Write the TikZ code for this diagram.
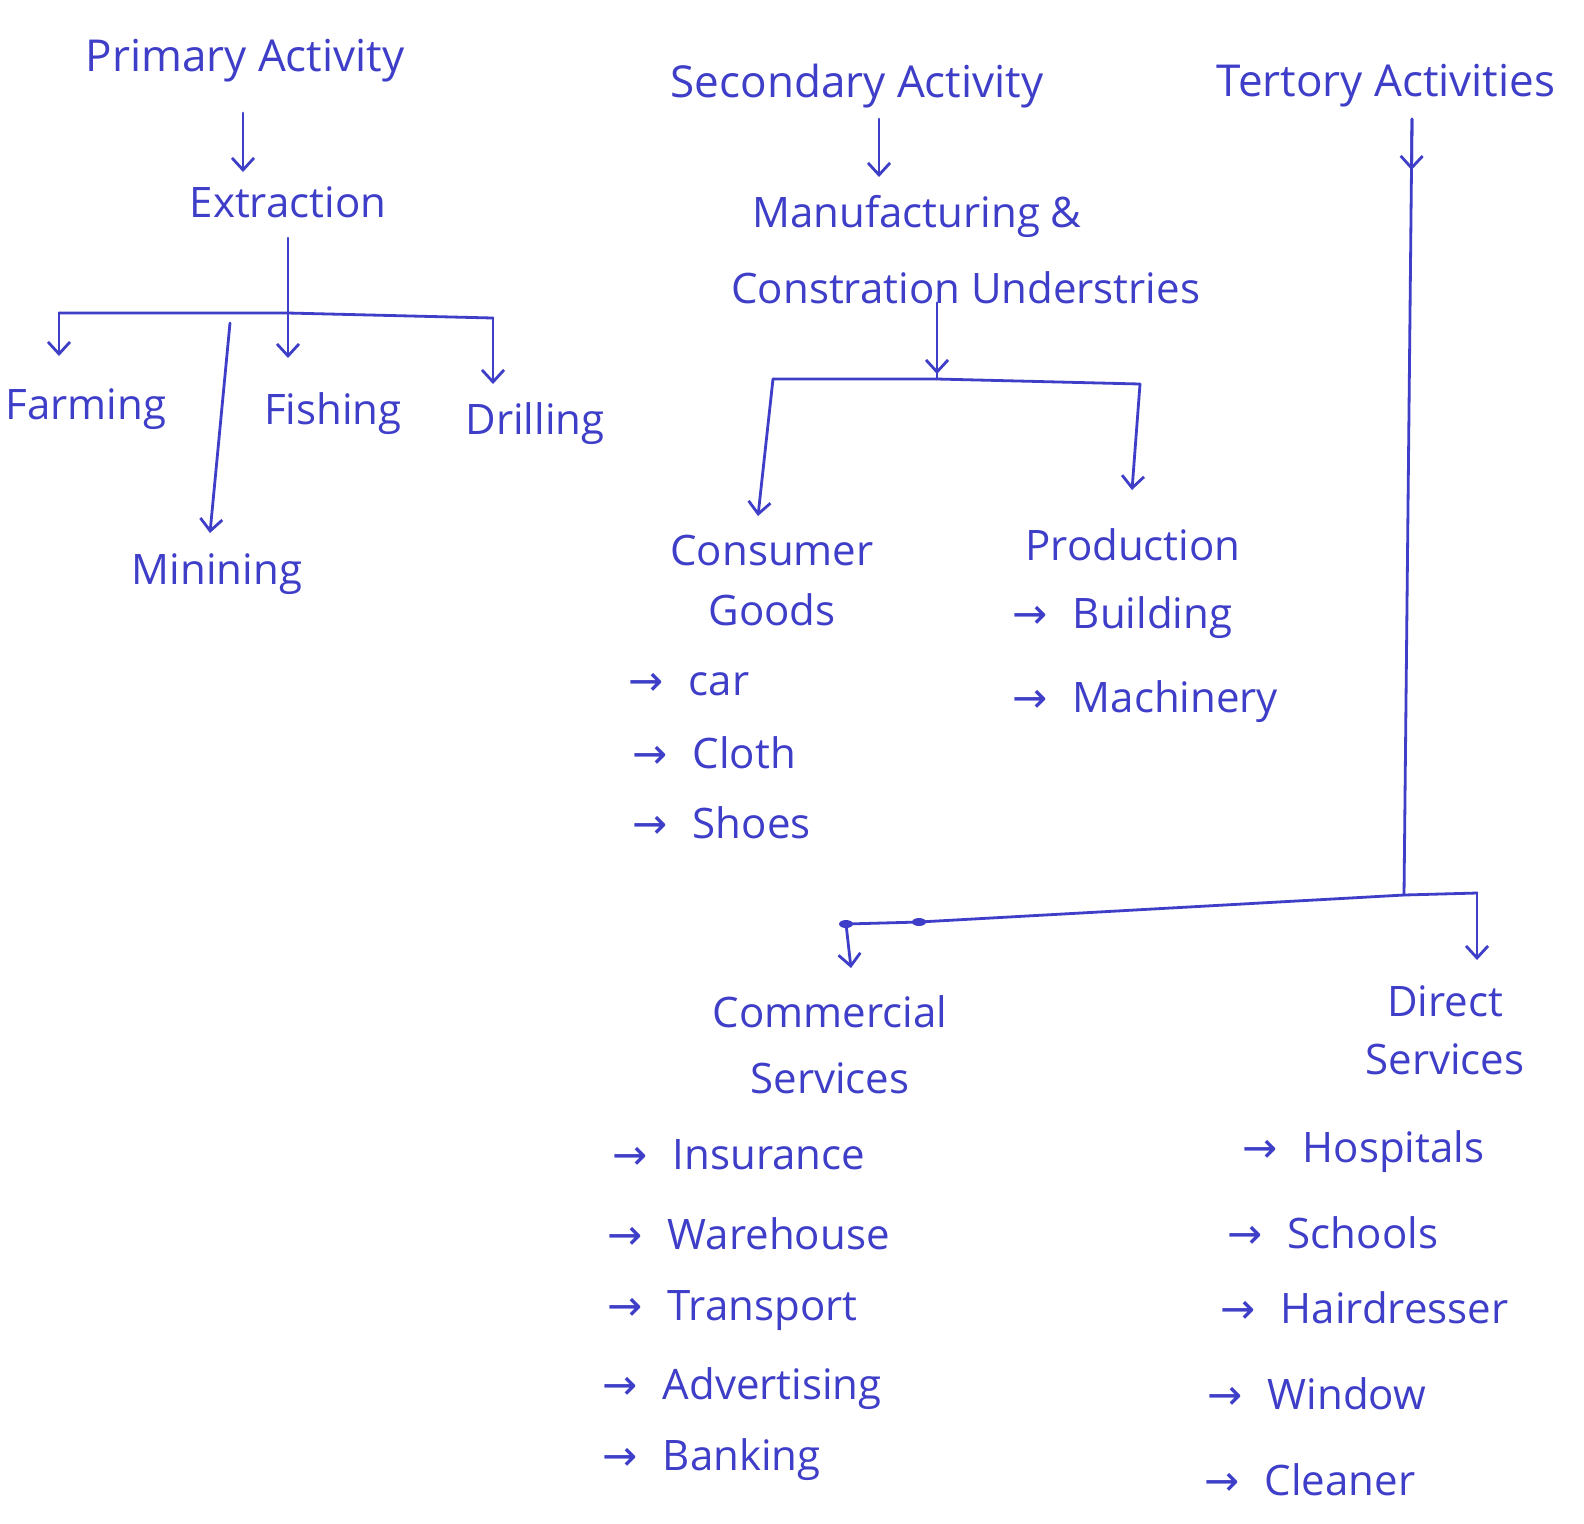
\documentclass[tikz,border=0pt]{standalone}
\usepackage{fontspec}
\setmainfont{Open Sans}
\newfontfamily\arrfont{DejaVu Sans}
\usetikzlibrary{arrows.meta}
\definecolor{ink}{RGB}{62,62,200}
\newcommand{\itm}[1]{{\arrfont →}\hspace{0.6em}#1}
\begin{document}
\begin{tikzpicture}[x=0.5pt,y=-0.5pt,
  every node/.style={text=ink, font=\fontsize{21}{30}\selectfont, inner sep=1pt},
  conn/.style={draw=ink, line width=1.4pt, line cap=round, line join=round},
  arr/.style={conn, -{Straight Barb[length=6pt,width=11pt,line width=1.4pt]}},
  item/.style={anchor=west},
  multi/.style={align=center}]
\useasboundingbox (0,0) rectangle (1584,1523);
\fill[white] (0,0) rectangle (1584,1523);

% ---------- Primary ----------
\node[font=\fontsize{22}{30}\selectfont] (pa) at (245,61) {Primary Activity};
\node (ex) at (288,202) {Extraction};
\draw[arr] (243,113) -- (243,172);
\coordinate (j1) at (288,313);
\coordinate (fl) at (59,313);
\coordinate (dr) at (493,318);
\node (fa) at (86,409) {Farming};
\node (fi) at (333,414) {Fishing};
\node (dl) at (535,424) {Drilling};
\node (mi) at (217,574) {Minining};
\draw[conn] (ex.south) ++(0,18) -- (j1);
\draw[conn] (fl) -- (j1) -- (dr);
\draw[arr] (fl) -- (59,356);
\draw[arr] (j1) -- (288,358);
\draw[arr] (dr) -- (493,384);
\draw[arr] (230,323) -- (210,533);

% ---------- Secondary ----------
\node[font=\fontsize{22}{30}\selectfont] (sa) at (857,86) {Secondary Activity};
\draw[arr] (879,119) -- (879,177);
\node[align=left, anchor=west, font=\fontsize{21}{38}\selectfont] (mc) at (729,250)
  {\hspace{0.5em}Manufacturing \&\\Constration Understries};
\coordinate (j2) at (937,379);
\coordinate (cl) at (773,379);
\coordinate (cr) at (1140,384);
\draw[conn] (937,303) -- (j2);
\draw[arr] (937,303) -- (937,374);
\draw[conn] (cl) -- (j2) -- (cr);
\draw[arr] (cl) -- (758,516);
\draw[arr] (cr) -- (1132,490);
\node[multi] (cg) at (772,580) {Consumer\\Goods};
\node (pr) at (1133,545) {Production};
\node[item] (car) at (626,684) {\itm{car}};
\node[item] (clo) at (630,753) {\itm{Cloth}};
\node[item] (sho) at (630,823) {\itm{Shoes}};
\node[item] (bui) at (1010,618) {\itm{Building}};
\node[item] (mac) at (1010,702) {\itm{Machinery}};

% ---------- Tertiary ----------
\node[font=\fontsize{22}{30}\selectfont] (ta) at (1386,86) {Tertory Activities};
\coordinate (t0) at (1412,119);
\coordinate (j3) at (1404,895);
\draw[conn] (t0) -- (j3);
\draw[arr] (t0) -- (1411.5,170);
\coordinate (rr) at (1477,893);
\coordinate (lm) at (919,922);
\coordinate (ll) at (846,924);
\draw[conn] (ll) -- (lm) -- (j3) -- (rr);
\draw[arr] (rr) -- (1477,960);
\draw[arr] (ll) -- (851,968);
\fill[ink] (ll) ellipse (7 and 4);
\fill[ink] (lm) ellipse (7 and 4);
\node[multi, font=\fontsize{21}{33}\selectfont] (cs) at (830,1045) {Commercial\\Services};
\node[multi, font=\fontsize{21}{29}\selectfont] (ds) at (1445,1030) {Direct\\Services};
\node[item] (ins) at (610,1155) {\itm{Insurance}};
\node[item] (war) at (605,1234) {\itm{Warehouse}};
\node[item] (tra) at (605,1311) {\itm{Transport}};
\node[item] (adv) at (600,1389) {\itm{Advertising}};
\node[item] (ban) at (600,1460) {\itm{Banking}};
\node[item] (hos) at (1240,1152) {\itm{Hospitals}};
\node[item] (sch) at (1225,1233) {\itm{Schools}};
\node[item] (hai) at (1218,1308) {\itm{Hairdresser}};
\node[item] (win) at (1205,1394) {\itm{Window}};
\node[item] (cle) at (1202,1480) {\itm{Cleaner}};
\end{tikzpicture}
\end{document}
